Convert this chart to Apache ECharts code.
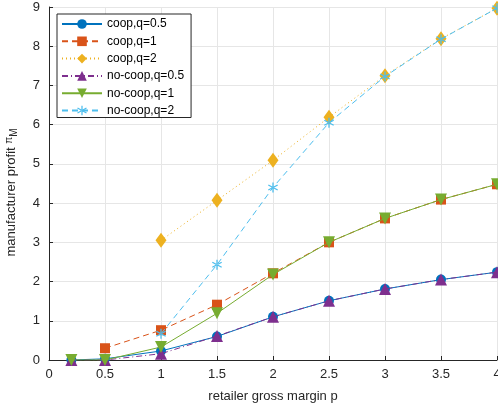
<!DOCTYPE html>
<html><head><meta charset="utf-8">
<script src="https://cdn.jsdelivr.net/npm/echarts@6/dist/echarts.min.js"></script>
<style>html,body{margin:0;padding:0;background:#fff}#c{width:498px;height:411px}</style>
</head><body><div id="c"></div>
<script>
const xValues = [0.2, 0.5, 1, 1.5, 2, 2.5, 3, 3.5, 4];
const seriesNames = ['coop,q=0.5','coop,q=1','coop,q=2','no-coop,q=0.5','no-coop,q=1','no-coop,q=2'];
const coopQ05   = [0, 0.03, 0.23, 0.60, 1.10, 1.51, 1.81, 2.05, 2.24];
const coopQ1    = [null, 0.30, 0.76, 1.41, 2.21, 3.00, 3.61, 4.09, 4.48];
const coopQ2    = [null, null, 3.05, 4.07, 5.09, 6.19, 7.25, 8.19, 8.97];
const nocoopQ05 = [0, 0, 0.16, 0.61, 1.10, 1.51, 1.81, 2.05, 2.24];
const nocoopQ1  = [0, 0, 0.33, 1.19, 2.18, 3.00, 3.61, 4.09, 4.48];
const nocoopQ2  = [null, null, 0.67, 2.43, 4.40, 6.05, 7.23, 8.18, 8.97];
const xTicks = [0, 0.5, 1, 1.5, 2, 2.5, 3, 3.5, 4];
const yTicks = [0,1,2,3,4,5,6,7,8,9];

const colors = ['#0072BD','#D95319','#EDB120','#7E2F8E','#77AC30','#4DBEEE'];
const asterisk = 'path://M4.4 0 L5.6 0 L5.6 10 L4.4 10 Z M0.37 3.02 L0.97 1.98 L9.63 6.98 L9.03 8.02 Z M0.37 6.98 L0.97 8.02 L9.63 3.02 L9.03 1.98 Z';
const styles = [
  {symbol:'circle', size:10},
  {symbol:'rect', size:10, dash:[6,4]},
  {symbol:'diamond', size:[11,15], dash:[1,3]},
  {symbol:'triangle', size:12, dash:[6,3,1,3]},
  {symbol:'path://M0 0 L10 0 L5 9 Z', size:12},
  {symbol:asterisk, size:10, dash:[6,4]}
];
const allData = [coopQ05, coopQ1, coopQ2, nocoopQ05, nocoopQ1, nocoopQ2];

const series = allData.map((d,i)=>({
  name: seriesNames[i],
  type:'line',
  data: xValues.map((x,j)=> d[j]==null ? null : [x, d[j]]).filter(p=>p),
  symbol: styles[i].symbol,
  symbolSize: styles[i].size,
  showAllSymbol: true,
  itemStyle:{color:colors[i]},
  lineStyle:{color:colors[i], width:1, type: styles[i].dash || 'solid'},
  emphasis:{disabled:true},
  z: 2+i,
  animation:false
}));

const font = 'Liberation Sans';
const chart = echarts.init(document.getElementById('c'), null, {renderer:'canvas'});
chart.setOption({
  backgroundColor:'#fff',
  animation:false,
  color: colors,
  grid:{left:49, right:1, top:7, bottom:51, show:false, containLabel:false, outerBoundsMode:'none'},
  legend:{
    orient:'vertical', left:57, top:14, padding:[4,7,1,4],
    backgroundColor:'#fff', borderColor:'#262626', borderWidth:1,
    itemWidth:40, itemHeight:12, itemGap:5.3,
    textStyle:{fontFamily:font, fontSize:12, color:'#000'},
    data: seriesNames
  },
  xAxis:{
    type:'value', min:0, max:4, interval:0.5,
    name:'retailer gross margin p', nameLocation:'middle', nameGap:30,
    nameTextStyle:{fontFamily:font, fontSize:13, color:'#262626'},
    axisLine:{show:true, lineStyle:{color:'#262626', width:1}},
    axisTick:{show:true, inside:true, length:4, lineStyle:{color:'#262626'}},
    axisLabel:{fontFamily:font, fontSize:13, color:'#262626', margin:8,
      formatter:v=>String(v)},
    splitLine:{show:true, lineStyle:{color:'#e6e6e6', width:1}}
  },
  yAxis:{
    type:'value', min:0, max:9, interval:1,
    name:'manufacturer profit {pi|π}{sub|M}', nameLocation:'middle', nameGap:30,
    nameTextStyle:{fontFamily:font, fontSize:13, color:'#262626', padding:[0,18,0,0],
      rich:{pi:{fontFamily:font, fontSize:10, color:'#262626', padding:[0,0,3,0]},
            sub:{fontFamily:font, fontSize:10, color:'#262626', verticalAlign:'bottom', padding:[6,0,0,0]}}},
    axisLine:{show:true, lineStyle:{color:'#262626', width:1}},
    axisTick:{show:true, inside:true, length:4, lineStyle:{color:'#262626'}},
    axisLabel:{fontFamily:font, fontSize:13, color:'#262626', margin:9},
    splitLine:{show:true, lineStyle:{color:'#e6e6e6', width:1}}
  },
  series: series
});
</script></body></html>
